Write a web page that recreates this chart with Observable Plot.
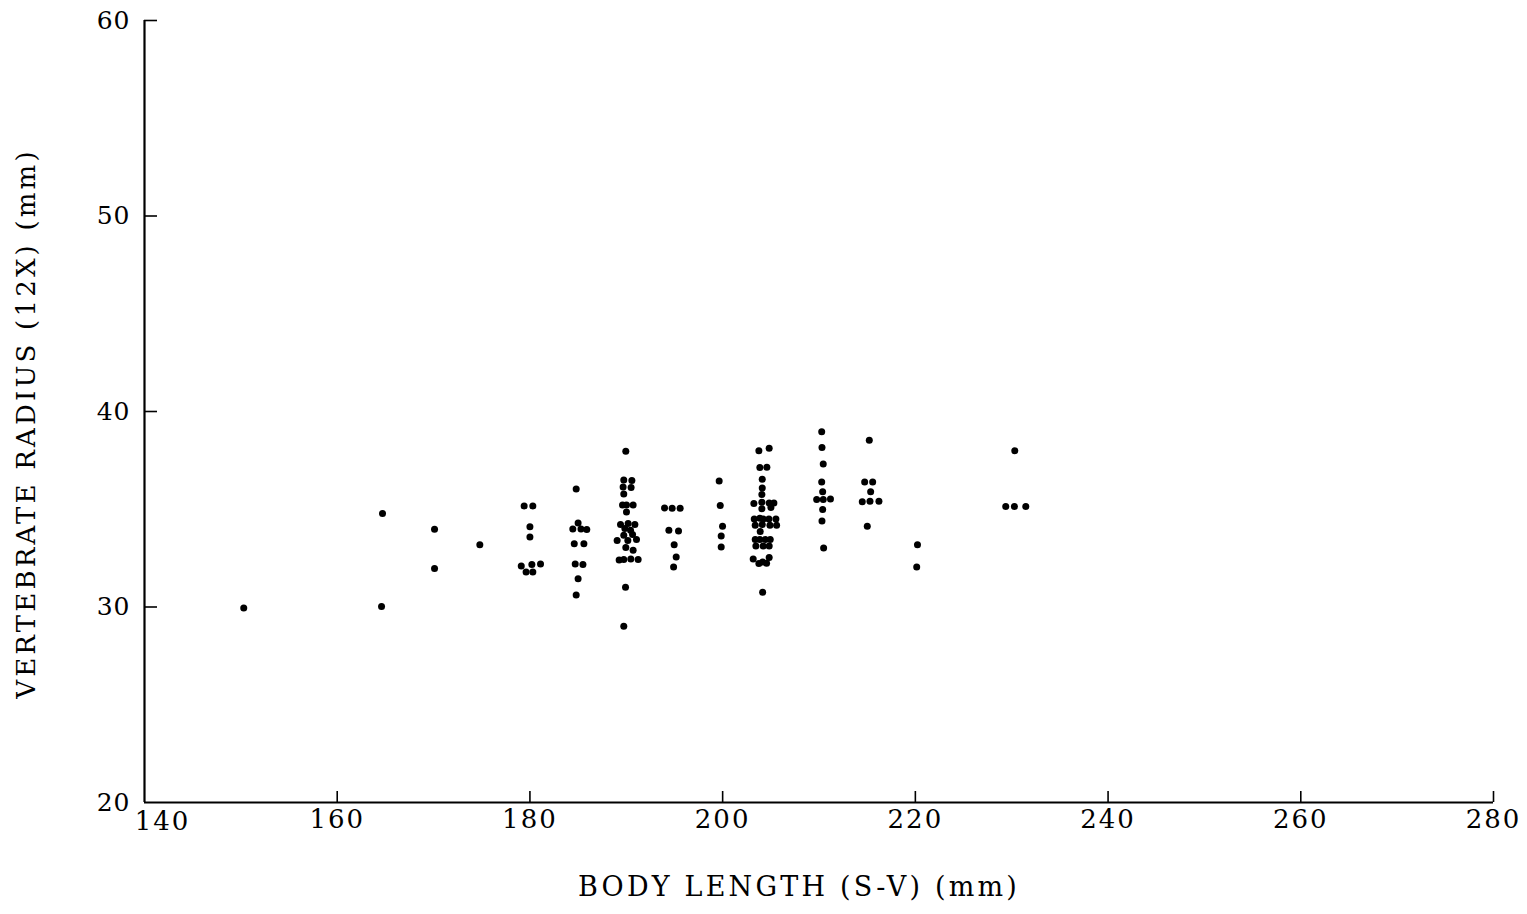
<!DOCTYPE html>
<html>
<head>
<meta charset="utf-8">
<script src="https://cdn.jsdelivr.net/npm/d3@7"></script>
<script src="https://cdn.jsdelivr.net/npm/@observablehq/plot@0.6"></script>
<style>
  html, body { margin: 0; padding: 0; background: #fff; }
  #chart svg { display: block; }
</style>
</head>
<body>
<div id="chart"></div>
<script>
const xTicks = [140, 160, 180, 200, 220, 240, 260, 280];
const yTicks = [20, 30, 40, 50, 60];
const xLabel = "BODY LENGTH (S-V) (mm)";
const yLabel = "VERTEBRATE RADIUS (12X) (mm)";

// Body length (S-V, mm)
const bodyLength = [
  150.3, 164.7, 164.6, 170.1, 170.1, 174.8,
  179.4, 180.3, 180.0, 180.0, 179.1, 180.2, 181.1, 179.6, 180.3,
  184.8, 185.0, 184.45, 185.3, 185.9, 184.6, 185.6, 184.7, 185.5, 185.0, 184.8,
  189.95, 189.74, 190.58, 189.67, 190.50, 189.74, 189.61, 190.02, 190.71, 190.02,
  189.40, 190.19, 190.89, 189.85, 190.44, 189.74, 190.65, 189.05, 190.16, 191.06,
  189.95, 190.71, 189.26, 189.74, 190.47, 191.23, 189.92, 189.74,
  193.97, 194.76, 195.59, 194.42, 195.42, 194.97, 195.18, 194.91,
  199.64, 199.75, 199.99, 199.85, 199.85,
  203.76, 204.83, 203.86, 204.59, 204.11, 204.11, 204.07, 203.24, 204.07, 204.07,
  204.83, 205.32, 205.01, 203.28, 203.86, 204.21, 204.80, 205.53, 203.38, 204.11,
  204.91, 205.60, 203.90, 203.38, 203.86, 204.42, 204.94, 203.45, 204.21, 204.83,
  203.17, 203.76, 204.15, 204.56, 204.83, 204.15,
  210.28, 210.31, 210.44, 210.28, 210.38, 209.76, 210.44, 211.19, 210.38, 210.31, 210.48,
  215.22, 214.74, 215.57, 215.36, 214.49, 215.29, 216.22, 215.01,
  220.22, 220.14,
  230.32, 229.38, 230.28, 231.46
];

// Vertebrate radius (12X, mm)
const vertebraRadius = [
  29.95, 34.78, 30.02, 33.98, 31.97, 33.19,
  35.17, 35.17, 34.10, 33.58, 32.10, 32.17, 32.20, 31.79, 31.79,
  36.04, 34.30, 33.99, 33.99, 33.96, 33.23, 33.23, 32.20, 32.17, 31.45, 30.61,
  37.97, 36.49, 36.47, 36.14, 36.11, 35.78, 35.22, 35.22, 35.22, 34.86,
  34.22, 34.27, 34.22, 34.01, 33.93, 33.67, 33.71, 33.40, 33.40, 33.45,
  33.04, 32.90, 32.41, 32.43, 32.46, 32.43, 31.01, 29.01,
  35.07, 35.05, 35.05, 33.93, 33.89, 33.19, 32.56, 32.05,
  36.45, 35.19, 34.13, 33.63, 33.07,
  37.99, 38.12, 37.14, 37.15, 36.54, 36.09, 35.75, 35.29, 35.36, 35.02,
  35.32, 35.32, 35.09, 34.50, 34.54, 34.50, 34.50, 34.50, 34.18, 34.22,
  34.18, 34.18, 33.86, 33.45, 33.45, 33.45, 33.45, 33.12, 33.12, 33.12,
  32.46, 32.22, 32.30, 32.24, 32.53, 30.75,
  38.96, 38.16, 37.31, 36.40, 35.89, 35.50, 35.50, 35.53, 34.99, 34.40, 33.02,
  38.53, 36.40, 36.40, 35.89, 35.38, 35.41, 35.41, 34.13,
  33.19, 32.05,
  37.99, 35.14, 35.14, 35.14
];

const data = bodyLength.map((x, i) => ({length: x, radius: vertebraRadius[i]}));

const chart = Plot.plot({
  width: 1527,
  height: 914,
  marginLeft: 144,
  marginRight: 34,
  marginTop: 20,
  marginBottom: 112,
  style: {fontFamily: "DejaVu Serif", background: "#fff", color: "#000", overflow: "visible"},
  x: {domain: [140, 280], label: null},
  y: {domain: [20, 60], label: null},
  marks: [
    Plot.axisX(xTicks.slice(1), {tickSize: -11, tickFormat: () => "", strokeWidth: 1.6, label: null}),
    Plot.axisX(xTicks.slice(1), {tickSize: 0, tickPadding: 7, fontSize: 26, label: null}),
    Plot.axisX(xTicks.slice(0, 1), {tickSize: 0, tickPadding: 9, fontSize: 26, dx: 18, label: null}),
    Plot.axisY(yTicks.slice(1), {tickSize: -13, tickFormat: () => "", strokeWidth: 1.6, label: null}),
    Plot.axisY(yTicks, {tickSize: 0, tickPadding: 14, fontSize: 25, label: null}),
    Plot.ruleY([20], {strokeWidth: 2.2}),
    Plot.ruleX([140], {strokeWidth: 2.2}),
    Plot.dot(data, {x: "length", y: "radius", r: 3.5, fill: "#000", stroke: "none"}),
    Plot.text([xLabel], {text: d => d, frameAnchor: "bottom", textAnchor: "middle", dx: -20, dy: 93, fontSize: 27, fill: "#000"}),
    Plot.text([yLabel], {text: d => d, frameAnchor: "left", textAnchor: "middle", rotate: -90, dx: -118, dy: 12, fontSize: 26, fill: "#000"})
  ]
});

d3.select(chart).selectAll('g[aria-label="text"] text').style("letter-spacing", "3.2px");
d3.select(chart).selectAll('g[aria-label="x-axis tick label"] text').style("letter-spacing", "2px");
d3.select(chart).selectAll('g[aria-label="y-axis tick label"] text').style("letter-spacing", "1px");
document.getElementById("chart").appendChild(chart);
</script>
</body>
</html>
